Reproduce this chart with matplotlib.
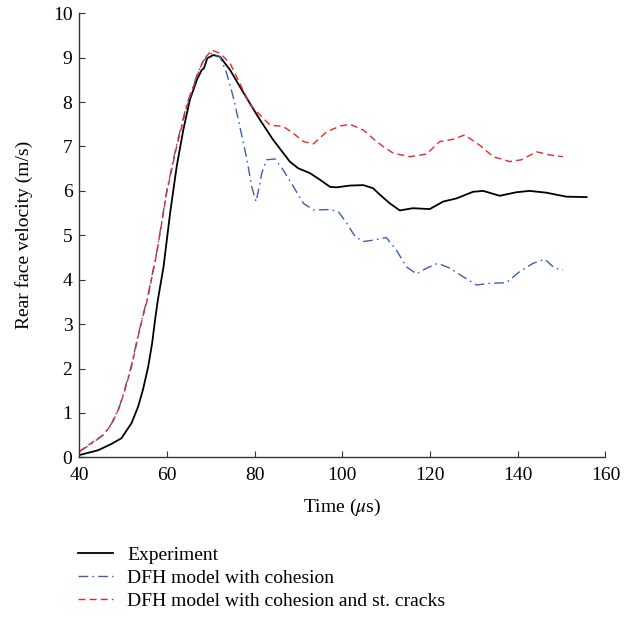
import matplotlib
matplotlib.use("Agg")
import matplotlib.pyplot as plt

plt.rcParams['font.family'] = ['Liberation Serif', 'DejaVu Serif']
plt.rcParams['mathtext.fontset'] = 'stix'

# Experiment
exp_t = [40, 44.3, 47.3, 49.6, 51.9, 53.4, 54.5, 55.7, 56.6, 57.3, 57.9, 59.2, 60.7, 62.2,
         63.7, 65.2, 66.8, 67.9, 68.4, 69.2, 70.6, 72.1, 74.4, 76.6, 78.9, 81.2, 84.2,
         88.0, 89.9, 92.6, 94.9, 97.2, 98.7, 101.7, 104.8, 107.0, 108.6, 110.8, 113.1,
         116.1, 119.9, 123, 126, 129.8, 132.1, 135.9, 139.7, 142.7, 146.5, 151.1, 155.7]
exp_v = [0.05, 0.16, 0.30, 0.43, 0.77, 1.14, 1.52, 2.04, 2.57, 3.12, 3.54, 4.29, 5.5, 6.55,
         7.37, 8.05, 8.5, 8.72, 8.76, 8.99, 9.06, 9.02, 8.72, 8.35, 7.97, 7.6, 7.15,
         6.66, 6.51, 6.40, 6.25, 6.09, 6.08, 6.12, 6.13, 6.06, 5.91, 5.72, 5.56,
         5.61, 5.59, 5.76, 5.83, 5.98, 6.0, 5.89, 5.97, 6.0, 5.96, 5.87, 5.86]

# DFH model with cohesion
coh_t = [40, 42.7, 45.4, 47.3, 49.2, 50.4, 51.9, 53.4, 54.5, 55.5, 57.65, 59.9, 62.2, 64.5,
         66.8, 68.3, 70.2, 72.1, 73.6, 75.1, 76.6, 78.2, 79.3, 80.3, 81.2, 81.6, 82.7,
         84.6, 86.5, 88.8, 91.1, 93.4, 97.2, 99.1, 101.0, 102.9, 104.8, 107, 110, 112.3,
         114.6, 116.9, 119.2, 121.8, 124.5, 127.5, 130.6, 133.6, 137.4, 140.4, 143.5,
         146.2, 148.4, 150.3]
coh_v = [0.13, 0.30, 0.50, 0.75, 1.16, 1.55, 2.08, 2.75, 3.2, 3.58, 4.62, 5.98, 7.05, 7.95,
         8.6, 8.93, 9.1, 9.02, 8.65, 8.12, 7.45, 6.72, 6.1, 5.76, 6.17, 6.4, 6.70,
         6.72, 6.47, 6.1, 5.72, 5.57, 5.58, 5.53, 5.27, 4.97, 4.86, 4.89, 4.95, 4.67,
         4.29, 4.13, 4.26, 4.37, 4.26, 4.07, 3.88, 3.92, 3.93, 4.18, 4.37,
         4.46, 4.26, 4.22]

# DFH model with cohesion and st. cracks
crk_t = [40, 42.7, 45.4, 47.3, 49.2, 50.4, 51.9, 53.4, 54.5, 55.5, 57.65, 59.9, 62.2, 64.5,
         66.8, 68.3, 70.2, 72.1, 74.4, 76.6, 78.9, 81.2, 83.5, 86.5, 88.8, 91.1, 93.4,
         96.4, 99.5, 101.7, 104.8, 107.8, 109.3, 111.6, 115.4, 119.2, 122.2, 125.2, 127.9,
         131.3, 134.4, 138.2, 140.8, 144.3, 147.3, 150.3]
crk_v = [0.13, 0.32, 0.50, 0.73, 1.14, 1.52, 2.04, 2.72, 3.17, 3.54, 4.59, 5.95, 7.0, 7.9,
         8.57, 8.95, 9.17, 9.1, 8.87, 8.42, 7.95, 7.71, 7.48, 7.45, 7.3, 7.11, 7.06,
         7.33, 7.46, 7.5, 7.37, 7.11, 7.0, 6.85, 6.77, 6.83, 7.11, 7.16, 7.26,
         7.03, 6.77, 6.66, 6.7, 6.88, 6.81, 6.77]

labels = ["Experiment", "DFH model with cohesion", "DFH model with cohesion and st. cracks"]

fig = plt.figure(figsize=(6.4, 6.21), dpi=100)
ax = fig.add_axes([0.124, 0.2636, 0.822, 0.715])

l1, = ax.plot(exp_t, exp_v, color='black', lw=1.3, label=labels[0])
l2, = ax.plot(coh_t, coh_v, color='#3b5eb5', lw=1.0, dashes=[7, 3, 1.2, 3], label=labels[1])
l3, = ax.plot(crk_t, crk_v, color='#e8262b', lw=1.0, dashes=[5, 3], label=labels[2])

ax.set_xlim(40, 160)
ax.set_ylim(0, 10)
ax.set_xticks(range(40, 161, 20))
ax.set_yticks(range(0, 11))
for s in ['top', 'right']:
    ax.spines[s].set_visible(False)
for s in ['left', 'bottom']:
    ax.spines[s].set_color('#333333')
    ax.spines[s].set_linewidth(1.0)
ax.tick_params(direction='in', length=4, color='#333333', labelsize=14)
ax.tick_params(axis='x', pad=7)
ax.tick_params(axis='y', pad=5)
ax.set_xlabel(r"Time ($\mu$s)", fontsize=14)
ax.set_ylabel("Rear face velocity (m/s)", fontsize=14)
ax.xaxis.set_label_coords(0.5, -0.112)
ax.xaxis.label.set_va('center')
ax.yaxis.set_label_coords(-0.105, 0.5)
ax.yaxis.label.set_va('center')

fig.legend(handles=[l1, l2, l3], loc='upper left', bbox_to_anchor=(0.122, 0.12),
           frameon=False, fontsize=14, handlelength=1.8, handletextpad=0.72,
           labelspacing=0.28, borderaxespad=0, borderpad=0)

fig.savefig("out.png", dpi=100)
